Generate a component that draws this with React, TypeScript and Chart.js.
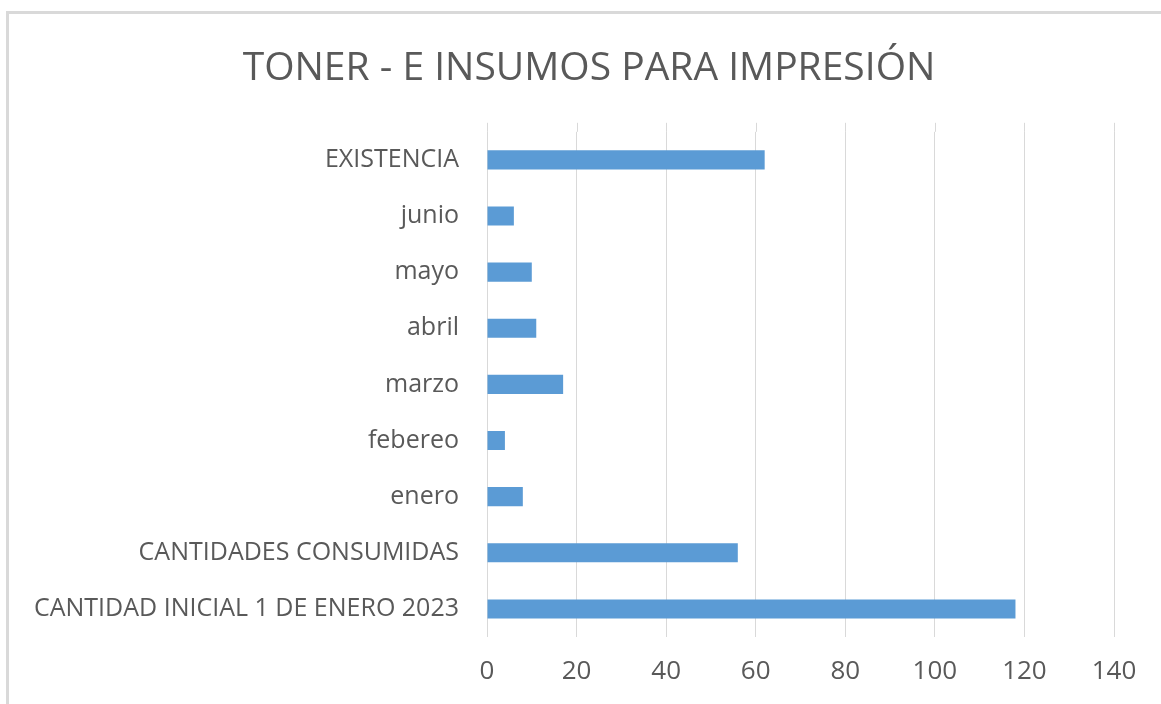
import React, { useEffect, useRef } from "react";
import { Chart, registerables } from "chart.js";

Chart.register(...registerables);

const categories = [
  "EXISTENCIA",
  "junio",
  "mayo",
  "abril",
  "marzo",
  "febereo",
  "enero",
  "CANTIDADES CONSUMIDAS",
  "CANTIDAD INICIAL 1 DE ENERO 2023",
];
const values = [62, 6, 10, 11, 17, 4, 8, 56, 118];
const xTicks = [0, 20, 40, 60, 80, 100, 120, 140];
const titleText = "TONER - E INSUMOS PARA IMPRESIÓN";

const gridTopExtension = {
  id: "gridTopExtension",
  beforeDatasetsDraw(chart: any) {
    const { ctx, chartArea, scales } = chart;
    const x = scales.x;
    ctx.save();
    ctx.strokeStyle = "#d9d9d9";
    ctx.lineWidth = 1;
    x.ticks.forEach((t: any) => {
      const px = Math.round(x.getPixelForValue(t.value)) + 0.5;
      ctx.beginPath();
      ctx.moveTo(px, chartArea.top - 9);
      ctx.lineTo(px, chartArea.top);
      ctx.stroke();
    });
    ctx.restore();
  },
};

export default function App() {
  const ref = useRef<HTMLCanvasElement | null>(null);

  useEffect(() => {
    if (!ref.current) return;
    const chart = new Chart(ref.current, {
      type: "bar",
      data: {
        labels: categories,
        datasets: [
          {
            data: values,
            backgroundColor: "#5b9bd5",
            borderWidth: 0,
            barPercentage: 0.34,
            categoryPercentage: 1,
          },
        ],
      },
      plugins: [gridTopExtension],
      options: {
        indexAxis: "y",
        animation: false,
        responsive: false,
        maintainAspectRatio: false,
        layout: { padding: { left: 17, right: 0, top: 0, bottom: 0 } },
        plugins: {
          legend: { display: false },
          tooltip: { enabled: false },
          title: {
            display: true,
            text: titleText,
            color: "#595959",
            font: { family: "'Open Sans'", size: 39, weight: "normal", lineHeight: 1.2 },
            padding: { top: 45, bottom: 40 },
          },
        },
        scales: {
          x: {
            type: "linear",
            min: xTicks[0],
            max: xTicks[xTicks.length - 1],
            afterBuildTicks: (scale: any) => {
              scale.ticks = xTicks.map((v) => ({ value: v }));
            },
            afterFit: (scale: any) => {
              scale.height = 67;
            },
            ticks: {
              color: "#595959",
              font: { family: "'Open Sans'", size: 26 },
              padding: 19,
              maxRotation: 0,
              autoSkip: false,
            },
            grid: { color: "#d9d9d9", lineWidth: 1, drawTicks: false },
            border: { display: false },
          },
          y: {
            afterFit: (scale: any) => {
              scale.width = 470;
            },
            ticks: {
              color: "#595959",
              font: { family: "'Open Sans'", size: 25 },
              padding: 28,
              autoSkip: false,
            },
            grid: { display: false, drawTicks: false },
            border: { display: false },
          },
          yRightSpace: {
            type: "category",
            position: "right",
            labels: categories,
            afterFit: (scale: any) => {
              scale.width = 47;
            },
            ticks: { display: false },
            grid: { display: false, drawTicks: false },
            border: { display: false },
          },
        },
      },
    });
    return () => chart.destroy();
  }, []);

  return (
    <div
      style={{
        position: "fixed",
        left: 0,
        top: 0,
        width: 1161,
        height: 704,
        background: "#ffffff",
        overflow: "hidden",
      }}
    >
      <div
        style={{
          position: "absolute",
          left: 6,
          top: 11,
          width: 1300,
          height: 900,
          border: "3px solid #d9d9d9",
          boxSizing: "border-box",
        }}
      />
      <canvas
        ref={ref}
        width={1161}
        height={704}
        style={{ position: "absolute", left: 0, top: 0, width: 1161, height: 704 }}
      />
    </div>
  );
}
